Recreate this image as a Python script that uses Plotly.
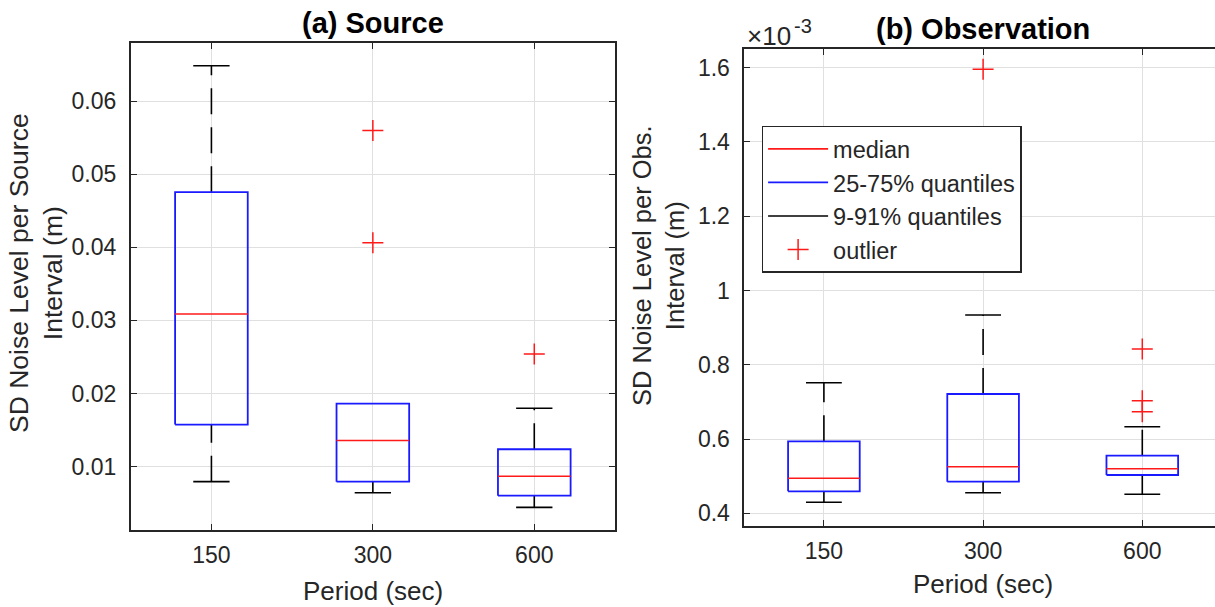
import plotly.graph_objects as go

# ---------------- data ----------------
periods = ["150", "300", "600"]
positions = [1, 2, 3]

# (a) Source, metres
src_lower = [0.00795, 0.00644, 0.00444]
src_q1 = [0.01576, 0.00795, 0.00603]
src_med = [0.03088, 0.01357, 0.00869]
src_q3 = [0.04754, 0.01863, 0.01238]
src_upper = [0.06483, 0.01863, 0.01799]
src_outliers = [[], [0.05597, 0.04064], [0.0254]]

# (b) Observation, in units of 1e-3 m
obs_lower = [0.4296, 0.4555, 0.4512]
obs_q1 = [0.4593, 0.4851, 0.5031]
obs_med = [0.4943, 0.5255, 0.5200]
obs_q3 = [0.5939, 0.7213, 0.5551]
obs_upper = [0.7517, 0.9340, 0.6332]
obs_outliers = [[], [1.5957], [0.8425, 0.7033, 0.6736]]

src_ticks = [0.01, 0.02, 0.03, 0.04, 0.05, 0.06]
src_ticktext = ["0.01", "0.02", "0.03", "0.04", "0.05", "0.06"]
obs_ticks = [0.4, 0.6, 0.8, 1.0, 1.2, 1.4, 1.6]
obs_ticktext = ["0.4", "0.6", "0.8", "1", "1.2", "1.4", "1.6"]

FONT = "Liberation Sans, Arial, Helvetica, sans-serif"
AX = "#262626"
BOX_HW = 0.225
CAP_HW = 0.1125

fig = go.Figure()


def add_panel(xa, ya, lower, q1, med, q3, upper, outl, show):
    wx, wy, cx, cy, bx, by, mx, my, ox, oy = [], [], [], [], [], [], [], [], [], []
    for p, lo, a, m, b, up, ol in zip(positions, lower, q1, med, q3, upper, outl):
        # upper whisker from box up to cap, lower whisker from cap up to box
        if up > b:
            wx += [p, p, None]
            wy += [b, up, None]
            cx += [p - CAP_HW, p + CAP_HW, None]
            cy += [up, up, None]
        if lo < a:
            wx += [p, p, None]
            wy += [lo, a, None]
            cx += [p - CAP_HW, p + CAP_HW, None]
            cy += [lo, lo, None]
        bx += [p - BOX_HW, p + BOX_HW, p + BOX_HW, p - BOX_HW, p - BOX_HW, None]
        by += [a, a, b, b, a, None]
        mx += [p - BOX_HW, p + BOX_HW, None]
        my += [m, m, None]
        for v in ol:
            ox.append(p)
            oy.append(v)
    fig.add_trace(go.Scatter(x=wx, y=wy, mode="lines", xaxis=xa, yaxis=ya,
                             line=dict(color="black", width=1.6, dash="26px,13px"),
                             showlegend=False, hoverinfo="skip"))
    fig.add_trace(go.Scatter(x=cx, y=cy, mode="lines", xaxis=xa, yaxis=ya,
                             line=dict(color="black", width=1.6),
                             name="9-91% quantiles", legendrank=3, showlegend=show))
    fig.add_trace(go.Scatter(x=bx, y=by, mode="lines", xaxis=xa, yaxis=ya,
                             line=dict(color="#1a1aff", width=1.8),
                             name="25-75% quantiles", legendrank=2, showlegend=show))
    fig.add_trace(go.Scatter(x=mx, y=my, mode="lines", xaxis=xa, yaxis=ya,
                             line=dict(color="#ff1a1a", width=1.6),
                             name="median", legendrank=1, showlegend=show))
    fig.add_trace(go.Scatter(x=ox, y=oy, mode="markers", xaxis=xa, yaxis=ya,
                             marker=dict(symbol="cross-thin", size=15,
                                         line=dict(color="#ff1a1a", width=1.5)),
                             name="outlier", legendrank=4, showlegend=show))


add_panel("x", "y", src_lower, src_q1, src_med, src_q3, src_upper, src_outliers, False)
add_panel("x2", "y2", obs_lower, obs_q1, obs_med, obs_q3, obs_upper, obs_outliers, True)

W, H = 1215, 607

common_x = dict(tickvals=positions, ticktext=periods, ticks="inside", ticklen=6,
                tickcolor=AX, tickwidth=1.3, showline=True, linecolor=AX, linewidth=1.6,
                showgrid=True, gridcolor="#e0e0e0", gridwidth=1, zeroline=False,
                tickfont=dict(family=FONT, size=23, color=AX), mirror="ticks",
                ticklabelstandoff=4)
common_y = dict(ticks="inside", ticklen=6, tickcolor=AX, tickwidth=1.3, showline=True,
                linecolor=AX, linewidth=1.6, showgrid=True, gridcolor="#e0e0e0",
                gridwidth=1, zeroline=False,
                tickfont=dict(family=FONT, size=23, color=AX), ticklabelstandoff=8)

fig.update_layout(
    width=W, height=H,
    margin=dict(l=0, r=0, t=0, b=0),
    paper_bgcolor="white", plot_bgcolor="white",
    xaxis=dict(domain=[130.7 / W, 615 / W], range=[0.5, 3.5], anchor="y", **common_x),
    yaxis=dict(domain=[1 - 530 / H, 1 - 43.3 / H], range=[0.00134, 0.0679],
               tickvals=src_ticks, ticktext=src_ticktext, anchor="x", mirror="ticks",
               **common_y),
    xaxis2=dict(domain=[744.3 / W, 1.0], range=[0.5, 3.4567], anchor="y2", **common_x),
    yaxis2=dict(domain=[1 - 525.7 / H, 1 - 49 / H], range=[0.3666, 1.6504],
                tickvals=obs_ticks, ticktext=obs_ticktext, anchor="x2", mirror=False,
                **common_y),
    legend=dict(x=761.7 / W, y=1 - 125.7 / H, xanchor="left", yanchor="top",
                bgcolor="white", bordercolor=AX, borderwidth=1.4,
                font=dict(family=FONT, size=23.5, color=AX), itemwidth=60,
                tracegroupgap=0),
    showlegend=True,
)

ann = [
    dict(text="<b>(a) Source</b>", x=372.5 / W, y=1 - 23 / H, font=dict(size=29, color="black")),
    dict(text="<b>(b) Observation</b>", x=982.7 / W, y=1 - 29 / H, font=dict(size=29, color="black")),
    dict(text="Period (sec)", x=373 / W, y=1 - 591 / H, font=dict(size=26, color=AX)),
    dict(text="Period (sec)", x=982.7 / W, y=1 - 584 / H, font=dict(size=26, color=AX)),
    dict(text="SD Noise Level per Source<br>Interval (m)", x=36 / W, y=1 - 273 / H,
         textangle=-90, font=dict(size=26.5, color=AX)),
    dict(text="SD Noise Level per Obs.<br>Interval (m)", x=658 / W, y=1 - 266 / H,
         textangle=-90, font=dict(size=25.5, color=AX)),
    dict(text="×10", x=745 / W, y=1 - 36 / H, xanchor="left", font=dict(size=26, color=AX)),
    dict(text="-3", x=792 / W, y=1 - 26 / H, xanchor="left", font=dict(size=20, color=AX)),
]
for a in ann:
    a.setdefault("xanchor", "center")
    a["font"]["family"] = FONT
    fig.add_annotation(xref="paper", yref="paper", yanchor="middle", showarrow=False,
                       **a)

fig.write_html("out.html")
